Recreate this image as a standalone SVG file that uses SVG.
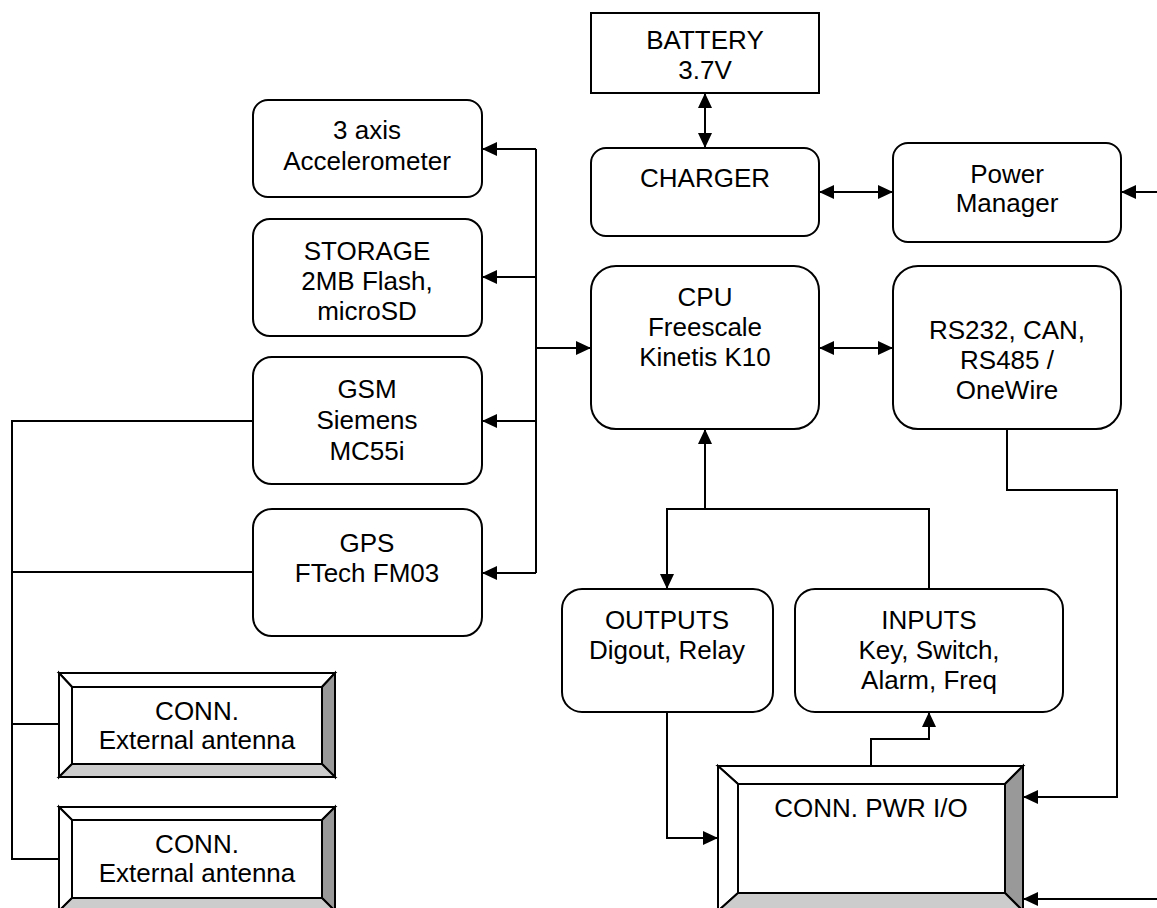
<svg xmlns="http://www.w3.org/2000/svg" width="1157" height="908" viewBox="0 0 1157 908">
<style>
.box{fill:#fff;stroke:#000;stroke-width:2}
.ln{fill:none;stroke:#000;stroke-width:2}
.t{font-family:"Liberation Sans",Arial,sans-serif;font-size:26px;fill:#000;text-anchor:middle}
.bw{fill:#fff;stroke:#000;stroke-width:2;stroke-linejoin:miter}
.bd{fill:#999;stroke:#000;stroke-width:2}
.bl{fill:#ccc;stroke:#000;stroke-width:2}
</style>
<defs>
<marker id="ah" markerUnits="userSpaceOnUse" markerWidth="16" markerHeight="15" refX="15" refY="7" orient="auto-start-reverse">
<path d="M0,0 L15,7 L0,14 Z" fill="#000"/>
</marker>
</defs>
<rect width="1157" height="908" fill="#fff"/>

<g id="connectors">
<line class="ln" x1="705" y1="93" x2="705" y2="148" marker-start="url(#ah)" marker-end="url(#ah)"/>
<line class="ln" x1="819" y1="192" x2="893" y2="192" marker-start="url(#ah)" marker-end="url(#ah)"/>
<line class="ln" x1="1157" y1="192" x2="1121" y2="192" marker-end="url(#ah)"/>
<line class="ln" x1="819" y1="348" x2="893" y2="348" marker-start="url(#ah)" marker-end="url(#ah)"/>
<line class="ln" x1="536" y1="149" x2="536" y2="573"/>
<line class="ln" x1="536" y1="149" x2="482" y2="149" marker-end="url(#ah)"/>
<line class="ln" x1="536" y1="277" x2="482" y2="277" marker-end="url(#ah)"/>
<line class="ln" x1="536" y1="421" x2="482" y2="421" marker-end="url(#ah)"/>
<line class="ln" x1="536" y1="573" x2="482" y2="573" marker-end="url(#ah)"/>
<line class="ln" x1="536" y1="348" x2="591" y2="348" marker-end="url(#ah)"/>
<polyline class="ln" points="253,421 12,421 12,859 59,859"/>
<line class="ln" x1="12" y1="572" x2="253" y2="572"/>
<line class="ln" x1="12" y1="724" x2="59" y2="724"/>
<line class="ln" x1="705" y1="509" x2="705" y2="429" marker-end="url(#ah)"/>
<polyline class="ln" points="929,589 929,509 667,509 667,589" marker-end="url(#ah)"/>
<polyline class="ln" points="667,712 667,838 718,838" marker-end="url(#ah)"/>
<polyline class="ln" points="871,766 871,739 929,739 929,712" marker-end="url(#ah)"/>
<polyline class="ln" points="1007,429 1007,490 1117,490 1117,797 1023,797" marker-end="url(#ah)"/>
<line class="ln" x1="1157" y1="899" x2="1023" y2="899" marker-end="url(#ah)"/>
</g>

<g id="battery">
<rect class="box" x="591" y="13" width="228" height="80"/>
<text class="t" x="705" y="49">BATTERY</text>
<text class="t" x="705" y="79">3.7V</text>
</g>

<g id="charger">
<rect class="box" x="591" y="148" width="228" height="88" rx="15"/>
<text class="t" x="705" y="187">CHARGER</text>
</g>

<g id="power-manager">
<rect class="box" x="893" y="143" width="228" height="99" rx="15"/>
<text class="t" x="1007" y="183">Power</text>
<text class="t" x="1007" y="212">Manager</text>
</g>

<g id="accelerometer">
<rect class="box" x="253" y="100" width="229" height="97" rx="15"/>
<text class="t" x="367" y="139">3 axis</text>
<text class="t" x="367" y="170">Accelerometer</text>
</g>

<g id="storage">
<rect class="box" x="253" y="219" width="229" height="117" rx="17"/>
<text class="t" x="367" y="260">STORAGE</text>
<text class="t" x="367" y="290">2MB Flash,</text>
<text class="t" x="367" y="320">microSD</text>
</g>

<g id="cpu">
<rect class="box" x="591" y="266" width="228" height="163" rx="25"/>
<text class="t" x="705" y="306">CPU</text>
<text class="t" x="705" y="336">Freescale</text>
<text class="t" x="705" y="366">Kinetis K10</text>
</g>

<g id="rs232">
<rect class="box" x="893" y="266" width="228" height="163" rx="25"/>
<text class="t" x="1007" y="339">RS232, CAN,</text>
<text class="t" x="1007" y="369">RS485 /</text>
<text class="t" x="1007" y="399">OneWire</text>
</g>

<g id="gsm">
<rect class="box" x="253" y="357" width="229" height="127" rx="19"/>
<text class="t" x="367" y="398">GSM</text>
<text class="t" x="367" y="429">Siemens</text>
<text class="t" x="367" y="460">MC55i</text>
</g>

<g id="gps">
<rect class="box" x="253" y="509" width="229" height="127" rx="19"/>
<text class="t" x="367" y="552">GPS</text>
<text class="t" x="367" y="582">FTech FM03</text>
</g>

<g id="outputs">
<rect class="box" x="562" y="589" width="211" height="123" rx="20"/>
<text class="t" x="667" y="629">OUTPUTS</text>
<text class="t" x="667" y="659">Digout, Relay</text>
</g>

<g id="inputs">
<rect class="box" x="795" y="589" width="268" height="123" rx="20"/>
<text class="t" x="929" y="629">INPUTS</text>
<text class="t" x="929" y="659">Key, Switch,</text>
<text class="t" x="929" y="689">Alarm, Freq</text>
</g>

<g id="conn-antenna-1">
<polygon class="bw" points="59,673 335,673 322,687 72,687"/>
<polygon class="bw" points="59,673 72,687 72,764 59,777"/>
<polygon class="bd" points="335,673 335,777 322,764 322,687"/>
<polygon class="bl" points="59,777 72,764 322,764 335,777"/>
<rect class="box" x="72" y="687" width="250" height="77"/>
<text class="t" x="197" y="720">CONN.</text>
<text class="t" x="197" y="749">External antenna</text>
</g>

<g id="conn-antenna-2">
<polygon class="bw" points="59,807 335,807 322,820 72,820"/>
<polygon class="bw" points="59,807 72,820 72,898 59,911"/>
<polygon class="bd" points="335,807 335,911 322,898 322,820"/>
<polygon class="bl" points="59,911 72,898 322,898 335,911"/>
<rect class="box" x="72" y="820" width="250" height="78"/>
<text class="t" x="197" y="853">CONN.</text>
<text class="t" x="197" y="882">External antenna</text>
</g>

<g id="conn-pwr-io">
<polygon class="bw" points="718,766 1023,766 1005,784 738,784"/>
<polygon class="bw" points="718,766 738,784 738,893 718,911"/>
<polygon class="bd" points="1023,766 1023,911 1005,893 1005,784"/>
<polygon class="bl" points="718,911 738,893 1005,893 1023,911"/>
<rect class="box" x="738" y="784" width="267" height="109"/>
<text class="t" x="871" y="817">CONN. PWR I/O</text>
</g>
</svg>
